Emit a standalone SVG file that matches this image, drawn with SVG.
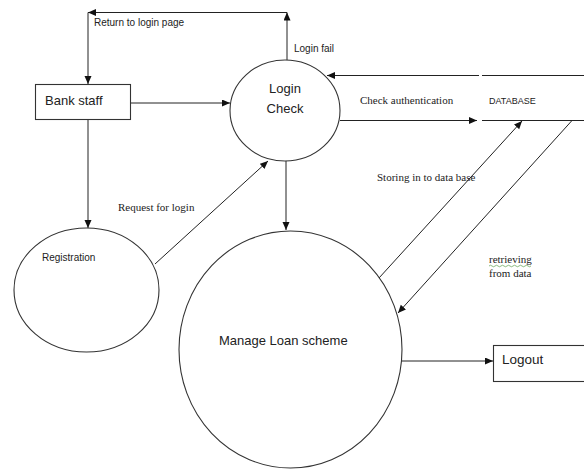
<svg xmlns="http://www.w3.org/2000/svg" width="584" height="470" viewBox="0 0 584 470">
  <style>
    .shape { fill: #fff; stroke: #333; stroke-width: 1.1; }
    .flow { fill: none; stroke: #222; stroke-width: 1; }
    .sans { font-family: "Liberation Sans", Arial, sans-serif; fill: #222; }
    .serif { font-family: "Liberation Serif", "Times New Roman", serif; fill: #222; font-size: 11px; }
    .small { font-size: 10px; }
    .big { font-size: 13px; }
  </style>
  <defs>
    <marker id="arrow" markerUnits="userSpaceOnUse" markerWidth="9" markerHeight="8" refX="8" refY="3.5" orient="auto">
      <path d="M0,0 L8,3.5 L0,7 z" fill="#111"/>
    </marker>
  </defs>

  <rect width="584" height="470" fill="#fff"/>

  <!-- connectors -->
  <g id="connectors" class="flow">
    <line x1="287" y1="60" x2="287" y2="12.5" marker-end="url(#arrow)"/>
    <line x1="287" y1="12.5" x2="88" y2="12.5" marker-end="url(#arrow)"/>
    <line x1="88" y1="12.5" x2="88" y2="84" marker-end="url(#arrow)"/>
    <line x1="131" y1="103" x2="230" y2="103" marker-end="url(#arrow)"/>
    <line x1="88" y1="120" x2="88" y2="228" marker-end="url(#arrow)"/>
    <line x1="155" y1="264" x2="268" y2="161" marker-end="url(#arrow)"/>
    <line x1="286" y1="160" x2="286" y2="230" marker-end="url(#arrow)"/>
    <line x1="479" y1="75.5" x2="327" y2="75.5" marker-end="url(#arrow)"/>
    <line x1="340" y1="120.5" x2="477" y2="120.5" marker-end="url(#arrow)"/>
    <line x1="379" y1="278" x2="522" y2="121" marker-end="url(#arrow)"/>
    <line x1="572" y1="120.5" x2="398" y2="313" marker-end="url(#arrow)"/>
    <line x1="402" y1="361" x2="493" y2="361" marker-end="url(#arrow)"/>
  </g>

  <!-- connector labels -->
  <g id="labels">
    <text class="sans small" x="94" y="26">Return to login page</text>
    <text class="sans small" x="294" y="52">Login fail</text>
    <text class="serif" x="360" y="104">Check authentication</text>
    <text class="serif" x="118" y="211">Request for login</text>
    <text class="serif" x="377" y="181">Storing in to data base</text>
    <text class="serif" x="489" y="263">retrieving</text>
    <path d="M489,266 q1.5,-1.5 3,0 t3,0 t3,0 t3,0 t3,0 t3,0 t3,0 t3,0 t3,0 t3,0 t3,0 t3,0 t3,0 t3,0" fill="none" stroke="#5a9e4b" stroke-width="0.7"/>
    <text class="serif" x="489" y="277">from data</text>
  </g>

  <!-- nodes -->
  <g id="bank-staff">
    <rect class="shape" x="35.5" y="84.5" width="95" height="35"/>
    <text class="sans big" x="45" y="105">Bank staff</text>
  </g>

  <g id="login-check">
    <ellipse class="shape" cx="285" cy="110.5" rx="55" ry="50.5"/>
    <text class="sans big" x="285" y="93" text-anchor="middle">Login</text>
    <text class="sans big" x="285" y="113" text-anchor="middle">Check</text>
  </g>

  <g id="database">
    <line class="flow" x1="482" y1="75.5" x2="584" y2="75.5"/>
    <line class="flow" x1="482" y1="120.5" x2="584" y2="120.5"/>
    <text class="sans" font-size="9" x="489" y="104">DATABASE</text>
  </g>

  <g id="registration">
    <ellipse class="shape" cx="86.5" cy="290" rx="72.5" ry="62"/>
    <text class="sans small" x="42" y="261">Registration</text>
  </g>

  <g id="manage-loan-scheme">
    <ellipse class="shape" cx="290.5" cy="349.5" rx="111.5" ry="118.5"/>
    <text class="sans big" x="219" y="345">Manage Loan scheme</text>
  </g>

  <g id="logout">
    <rect class="shape" x="493.5" y="345.5" width="100" height="36"/>
    <text class="sans" font-size="13.5" x="502" y="364">Logout</text>
  </g>
</svg>
